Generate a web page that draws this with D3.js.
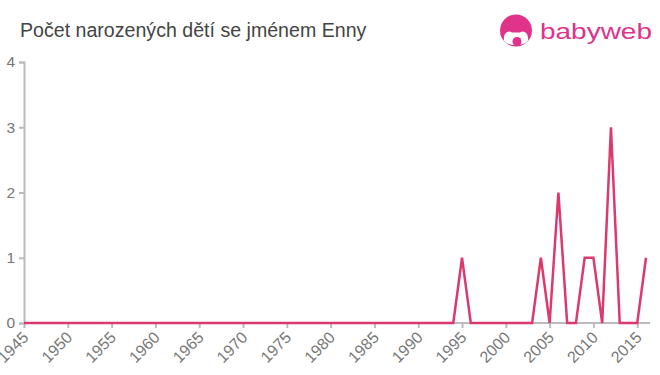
<!DOCTYPE html>
<html>
<head>
<meta charset="utf-8">
<script src="https://cdn.jsdelivr.net/npm/d3@7"></script>
<style>
  body { margin: 0; background: #fff; }
  svg { display: block; font-family: "Liberation Sans", Arial, sans-serif; }
</style>
</head>
<body>
<script>
var title = "Počet narozených dětí se jménem Enny"
var years = d3.range(1945, 2017)
var counts = [
  0, 0, 0, 0, 0, 0, 0, 0, 0, 0,   // 1945-1954
  0, 0, 0, 0, 0, 0, 0, 0, 0, 0,   // 1955-1964
  0, 0, 0, 0, 0, 0, 0, 0, 0, 0,   // 1965-1974
  0, 0, 0, 0, 0, 0, 0, 0, 0, 0,   // 1975-1984
  0, 0, 0, 0, 0, 0, 0, 0, 0, 0,   // 1985-1994
  1, 0, 0, 0, 0, 0, 0, 0, 0, 1,   // 1995-2004
  0, 2, 0, 0, 1, 1, 0, 3, 0, 0,   // 2005-2014
  0, 1                            // 2015-2016
]
var xTicks = d3.range(1945, 2016, 5)
var yTicks = [0, 1, 2, 3, 4]

var width = 660, height = 375
var margin = {top: 62, left: 24, bottom: 52, right: 14}

var svg = d3.select("body").append("svg")
    .attr("width", width).attr("height", height)

var data = years.map(function(y, i){ return {year: y, value: counts[i]} })

var x = d3.scaleLinear().domain([1945, 2016]).range([margin.left, 646])
var y = d3.scaleLinear().domain([0, 4]).range([height - margin.bottom, margin.top])

// title
svg.append("text")
    .attr("x", 20).attr("y", 37)
    .attr("font-size", 19.6)
    .attr("fill", "#444")
    .text(title)

// logo
var logo = svg.append("g").attr("transform", "translate(516,30.5)")
logo.append("circle").attr("r", 16).attr("fill", "#e0338a")
logo.append("path")
    .attr("d", "M-12,10 C-13,3 -8,-1 -4,2 L4,2 C8,-1 13,3 12,10 C9,16 -9,16 -12,10 Z")
    .attr("fill", "#fff")
logo.append("circle").attr("cx", 1).attr("cy", 11).attr("r", 4.5).attr("fill", "#e0338a")
svg.append("text")
    .attr("x", 540).attr("y", 39)
    .attr("font-size", 22)
    .attr("textLength", 112)
    .attr("lengthAdjust", "spacingAndGlyphs")
    .attr("fill", "#e0338a")
    .text("babyweb")

// axes
var yAxis = svg.append("g")
    .attr("transform", "translate(" + margin.left + ",0)")
    .call(d3.axisLeft(y).tickValues(yTicks).tickSize(5).tickPadding(4).tickFormat(d3.format("d")))
var xAxis = svg.append("g")
    .attr("transform", "translate(0," + y(0) + ")")
    .call(d3.axisBottom(x).tickValues(xTicks).tickSize(5).tickFormat(d3.format("d")))

yAxis.select(".domain").attr("stroke", "#bbb").attr("stroke-width", 2)
xAxis.select(".domain").attr("stroke", "#bbb").attr("stroke-width", 2)
  .attr("d", "M" + margin.left + ",0H650")
svg.selectAll(".tick line").attr("stroke", "#bbb").attr("stroke-width", 2)
yAxis.selectAll("text").attr("fill", "#777").attr("font-size", 15.5).attr("font-family", "Liberation Sans, Arial, sans-serif")
xAxis.selectAll("text")
    .attr("fill", "#777").attr("font-size", 16).attr("font-family", "Liberation Sans, Arial, sans-serif")
    .attr("text-anchor", "end")
    .attr("x", 0).attr("y", 0).attr("dy", 0)
    .attr("transform", "translate(5,15.5) rotate(-45)")

// line
var line = d3.line()
    .x(function(d){ return x(d.year) })
    .y(function(d){ return y(d.value) })

svg.append("path")
    .datum(data)
    .attr("fill", "none")
    .attr("stroke", "#dc3a6c")
    .attr("stroke-width", 2.5)
    .attr("d", line)
</script>
</body>
</html>
